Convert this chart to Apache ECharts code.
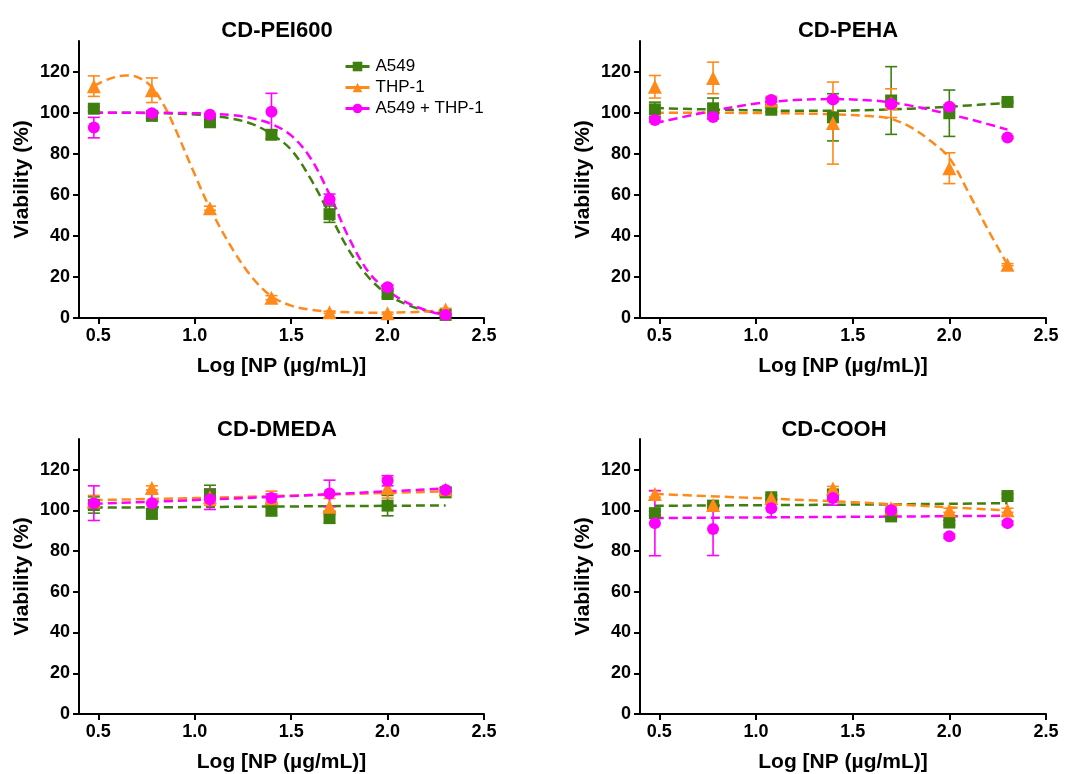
<!DOCTYPE html>
<html><head><meta charset="utf-8">
<script src="https://cdn.jsdelivr.net/npm/echarts@6/dist/echarts.min.js"></script>
<style>html,body{margin:0;padding:0;background:#fff}#c{width:1078px;height:774px}</style>
</head><body><div id="c"></div>
<script>
// ---- data ----
const seriesNames = ['A549', 'THP-1', 'A549 + THP-1'];
const panelTitles = ['CD-PEI600', 'CD-PEHA', 'CD-DMEDA', 'CD-COOH'];
const xConc = [0.477, 0.778, 1.079, 1.398, 1.699, 2.0, 2.301];
const xTicks = [0.5, 1.0, 1.5, 2.0, 2.5];
const yTicks = [0, 20, 40, 60, 80, 100, 120];

// CD-PEI600
const pei_A549 = [102, 98.5, 95.4, 89.3, 50.6, 11.7, 1.5];
const pei_A549_sd = [1, 1, 1.5, 2, 4, 1.5, 0.5];
const pei_THP1 = [113, 111, 53.5, 9.9, 2.8, 2.3, 4.2];
const pei_THP1_sd = [5, 6, 1, 1, 0.5, 0.5, 0.5];
const pei_Mix = [92.8, 99.8, 99, 100.5, 57.9, 15, 1.5];
const pei_Mix_sd = [5, 0.5, 0.5, 9, 2.5, 1, 0.5];
const pei_fitX = [0.477, 0.55, 0.64, 0.7, 0.778, 0.85, 0.9, 1.0, 1.079, 1.2, 1.3, 1.4, 1.5, 1.6, 1.7, 1.8, 1.9, 2.0, 2.1, 2.2, 2.301];
const pei_A549_fit = [100, 100, 100, 100, 99.9, 99.8, 99.6, 99.2, 98.6, 97, 94.5, 89.5, 82, 68, 50.5, 33, 20, 11.5, 6.5, 3.5, 1.8];
const pei_THP1_fit = [113, 116.3, 118.2, 117.5, 112.5, 102, 92, 70, 53.5, 33, 19.5, 10.5, 6, 4, 3.2, 2.8, 2.6, 2.6, 2.8, 3.2, 3.8];
const pei_Mix_fit = [100, 100, 100, 100, 100, 100, 99.9, 99.8, 99.6, 98.8, 97.3, 94.5, 89, 78, 60, 39, 22.5, 13.5, 7.5, 3.8, 1.2];

// CD-PEHA
const peha_A549 = [101.7, 102.2, 101.5, 97.8, 106, 99.8, 105.3];
const peha_A549_sd = [3.5, 5, 1, 11.5, 16.5, 11.3, 0.5];
const peha_THP1 = [112.7, 117, 106, 95, 104.7, 73, 26];
const peha_THP1_sd = [5.5, 7.7, 2, 20, 7, 7.5, 0.5];
const peha_Mix = [96.5, 98, 106.2, 106.5, 104.3, 103, 88];
const peha_Mix_sd = [1, 1, 1, 1, 1, 1, 0.5];
const peha_fitX = [0.477, 0.6, 0.778, 1.0, 1.2, 1.4, 1.6, 1.7, 1.8, 1.9, 2.0, 2.1, 2.2, 2.301];
const peha_A549_fit = [102.3, 102, 101.6, 101.2, 101, 101, 101.4, 101.7, 102, 102.5, 103, 103.6, 104.2, 104.8];
const peha_THP1_fit = [100, 100, 100, 99.9, 99.7, 99.3, 98.3, 97, 93, 86.5, 78, 61, 43, 26];
const peha_Mix_fit = [95, 97.5, 101, 104.5, 106.2, 106.7, 106, 105, 103.5, 101.5, 99.3, 97, 94.5, 91.8];

// CD-DMEDA
const dm_A549 = [102.6, 98.3, 107.8, 100.2, 96.6, 102.3, 108.8];
const dm_A549_sd = [4, 2.5, 4.5, 3, 3, 5, 1];
const dm_THP1 = [104.3, 111, 106.4, 105.9, 101.8, 111, 110.3];
const dm_THP1_sd = [3, 1, 4, 3.5, 4, 5, 1];
const dm_Mix = [103.5, 103.5, 105.4, 106, 108.3, 114.5, 110];
const dm_Mix_sd = [8.5, 5, 5, 2, 6.5, 2.5, 1];
const dm_fitX = [0.477, 1.0, 1.5, 2.0, 2.301];
const dm_A549_fit = [101.3, 101.6, 101.9, 102.2, 102.4];
const dm_THP1_fit = [105, 106, 107.2, 108.5, 109.3];
const dm_Mix_fit = [103.2, 105, 107, 109.3, 110.8];

// CD-COOH
const co_A549 = [98.6, 102.3, 106.4, 107.8, 97, 94, 107];
const co_A549_sd = [1, 1, 1, 1, 1, 1, 1];
const co_THP1 = [108, 102.6, 106, 110.7, 101, 100, 100];
const co_THP1_sd = [1.5, 1, 1, 1, 1, 1, 1];
const co_Mix = [93.7, 90.8, 101, 106, 100, 87.2, 93.7];
const co_Mix_sd = [16, 13, 4.5, 3.5, 1, 1, 1];
const co_fitX = [0.477, 1.0, 1.5, 2.0, 2.301];
const co_A549_fit = [102.2, 102.5, 102.8, 103.2, 103.5];
const co_THP1_fit = [108, 106, 104, 101.5, 100];
const co_Mix_fit = [96.2, 96.5, 96.8, 97.1, 97.3];

// ---- build ----
const colors = ['#3f7f0e', '#ff8a1a', '#ff00ff'];
const symbols = ['rect', 'triangle', 'circle'];
const symSizes = [12, 14, 12];
const FONT = '"Liberation Sans", Arial, sans-serif';

const panels = [
  {pts: [pei_A549, pei_THP1, pei_Mix], sd: [pei_A549_sd, pei_THP1_sd, pei_Mix_sd], fx: pei_fitX, fit: [pei_A549_fit, pei_THP1_fit, pei_Mix_fit]},
  {pts: [peha_A549, peha_THP1, peha_Mix], sd: [peha_A549_sd, peha_THP1_sd, peha_Mix_sd], fx: peha_fitX, fit: [peha_A549_fit, peha_THP1_fit, peha_Mix_fit]},
  {pts: [dm_A549, dm_THP1, dm_Mix], sd: [dm_A549_sd, dm_THP1_sd, dm_Mix_sd], fx: dm_fitX, fit: [dm_A549_fit, dm_THP1_fit, dm_Mix_fit]},
  {pts: [co_A549, co_THP1, co_Mix], sd: [co_A549_sd, co_THP1_sd, co_Mix_sd], fx: co_fitX, fit: [co_A549_fit, co_THP1_fit, co_Mix_fit]}
];

const gridPos = [
  {left: 79, top: 41, width: 405, height: 277},
  {left: 640, top: 41, width: 406, height: 277},
  {left: 79, top: 439, width: 405, height: 277},
  {left: 640, top: 439, width: 406, height: 277}
];
const titlePos = [[272, 15], [843, 15], [272, 414], [829, 414]];

const grids = [], xAxes = [], yAxes = [], series = [], titles = [];
const axisLineStyle = {color: '#000', width: 2};
panels.forEach((p, i) => {
  grids.push(Object.assign({containLabel: false}, gridPos[i]));
  titles.push({text: panelTitles[i], left: titlePos[i][0], top: titlePos[i][1], textAlign: 'center',
    textStyle: {fontFamily: FONT, fontWeight: 'bold', fontSize: 22, color: '#000'}});
  xAxes.push({type: 'value', gridIndex: i, min: 0.4, max: 2.5,
    name: 'Log [NP (µg/mL)]', nameLocation: 'middle', nameGap: 38,
    nameTextStyle: {fontFamily: FONT, fontWeight: 'bold', fontSize: 21, color: '#000'},
    axisLine: {show: true, onZero: false, lineStyle: axisLineStyle},
    axisTick: {show: true, length: 6, lineStyle: axisLineStyle, customValues: xTicks},
    axisLabel: {customValues: xTicks, formatter: v => v.toFixed(1), margin: 9,
      fontFamily: FONT, fontWeight: 'bold', fontSize: 18, color: '#000'},
    splitLine: {show: false}});
  yAxes.push({type: 'value', gridIndex: i, min: 0, max: 135,
    name: 'Viability (%)', nameLocation: 'middle', nameGap: 46,
    nameTextStyle: {fontFamily: FONT, fontWeight: 'bold', fontSize: 21, color: '#000'},
    axisLine: {show: true, lineStyle: axisLineStyle},
    axisTick: {show: true, length: 6, lineStyle: axisLineStyle, customValues: yTicks},
    axisLabel: {customValues: yTicks, margin: 9,
      fontFamily: FONT, fontWeight: 'bold', fontSize: 18, color: '#000'},
    splitLine: {show: false}});
  for (let s = 0; s < 3; s++) {
    series.push({type: 'line', name: seriesNames[s], xAxisIndex: i, yAxisIndex: i,
      data: p.fx.map((x, k) => [x, p.fit[s][k]]), smooth: 0.35,
      symbol: symbols[s], symbolSize: symSizes[s], showSymbol: false,
      itemStyle: {color: colors[s]},
      lineStyle: {color: colors[s], width: 2.5, type: [9, 5]}, z: 2, silent: true});
  }
  for (let s = 0; s < 3; s++) {
    series.push({type: 'custom', name: seriesNames[s] + ' err', xAxisIndex: i, yAxisIndex: i,
      data: xConc.map((x, k) => [x, p.pts[s][k] - p.sd[s][k], p.pts[s][k] + p.sd[s][k]]),
      encode: {x: 0, y: [1, 2]}, z: 3, silent: true,
      renderItem: (params, api) => {
        const x = api.value(0);
        const lo = api.coord([x, api.value(1)]);
        const hi = api.coord([x, api.value(2)]);
        const hw = 6;
        const st = {stroke: colors[s], lineWidth: 1.6};
        return {type: 'group', children: [
          {type: 'line', shape: {x1: lo[0], y1: lo[1], x2: hi[0], y2: hi[1]}, style: st},
          {type: 'line', shape: {x1: hi[0] - hw, y1: hi[1], x2: hi[0] + hw, y2: hi[1]}, style: st},
          {type: 'line', shape: {x1: lo[0] - hw, y1: lo[1], x2: lo[0] + hw, y2: lo[1]}, style: st}
        ]};
      }});
  }
  for (let s = 0; s < 3; s++) {
    series.push({type: 'scatter', name: seriesNames[s] + ' pts', xAxisIndex: i, yAxisIndex: i,
      data: xConc.map((x, k) => [x, p.pts[s][k]]),
      symbol: symbols[s], symbolSize: symSizes[s], itemStyle: {color: colors[s], opacity: 1}, z: 4, silent: true});
  }
});

const chart = echarts.init(document.getElementById('c'), null, {renderer: 'canvas'});
chart.setOption({
  animation: false,
  backgroundColor: '#fff',
  title: titles,
  legend: {data: seriesNames, orient: 'vertical', left: 339, top: 53, itemGap: 4,
    itemWidth: 24, itemHeight: 12, selectedMode: false,
    lineStyle: {type: 'solid', width: 3},
    textStyle: {fontFamily: FONT, fontSize: 17, color: '#000', padding: [0, 0, 0, 1]}},
  grid: grids, xAxis: xAxes, yAxis: yAxes, series: series
});
</script></body></html>
